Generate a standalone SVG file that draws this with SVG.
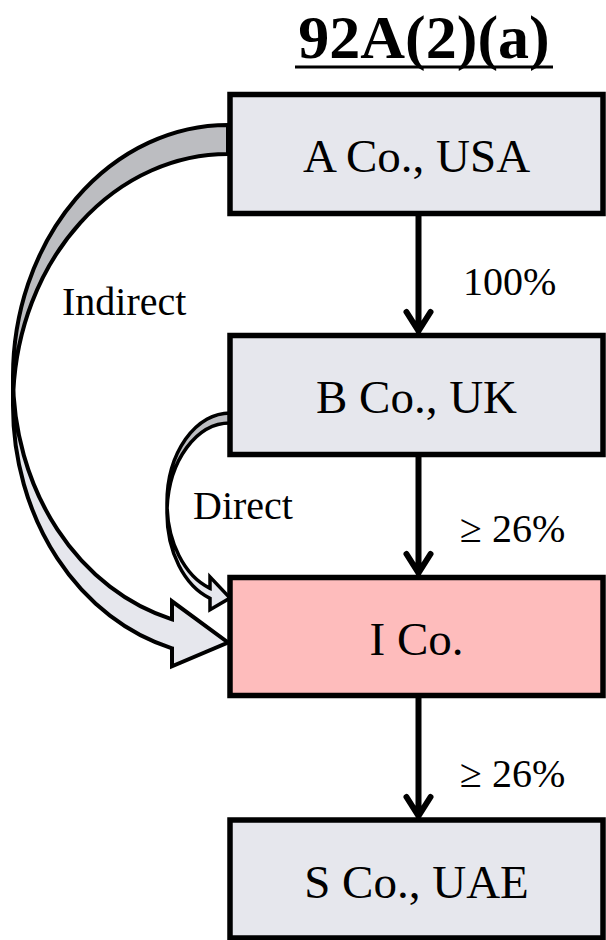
<svg xmlns="http://www.w3.org/2000/svg" width="606" height="940" viewBox="0 0 606 940">
<defs>
<style>
.box{stroke:#000;stroke-width:5.5}
.grey{fill:#e6e7ed}
.pink{fill:#febcbc}
.bt{font-family:"Liberation Serif","Times New Roman",serif;font-size:47px;fill:#000;text-anchor:middle}
.lbl{font-family:"Liberation Serif","Times New Roman",serif;font-size:40px;fill:#000}
.title{font-family:"Liberation Serif","Times New Roman",serif;font-size:62px;font-weight:bold;fill:#000;text-anchor:middle}
.conn{stroke:#000;stroke-width:6;fill:none;stroke-linecap:round;stroke-linejoin:round}
.light{fill:#e6e7ed;stroke:none}
.dark{fill:#bcbdc1;stroke:none}
.edge{fill:none;stroke:#000;stroke-width:4;stroke-linejoin:miter}
</style>
</defs>
<rect width="606" height="940" fill="#fff"/>
<g id="title">
<text class="title" x="424" y="58">92A(2)(a)</text>
<rect x="295" y="65.5" width="258" height="3" fill="#000"/>
</g>
<g id="connectors">
<g id="indirect">
<path class="light" d="M13 376.5 A215 251.5 0 0 0 172 619.3 L172 601.3 L228 642.5 L172 666.3 L172 648.3 A215 251.5 0 0 1 13 405.5 Z"/>
<path class="dark" d="M228 154 A215 251.5 0 0 0 13.36 391 A215 251.5 0 0 1 228 125 Z"/>
<path class="edge" d="M13 376.5 A215 251.5 0 0 0 172 619.3 L172 601.3 L228 642.5 L172 666.3 L172 648.3 A215 251.5 0 0 1 13 405.5 L13 376.5 A215 251.5 0 0 1 228 125 L228 154 A215 251.5 0 0 0 13.36 391"/>
</g>
<g id="direct">
<path class="light" d="M167 503 A63 90 0 0 0 210 588.3 L210 576.8 L230 598 L210 609.8 L210 598.3 A63 90 0 0 1 167 513 Z"/>
<path class="dark" d="M230 423 A63 90 0 0 0 167.1 508 A63 90 0 0 1 230 413 Z"/>
<path class="edge" style="stroke-width:3.5" d="M167 503 A63 90 0 0 0 210 588.3 L210 576.8 L230 598 L210 609.8 L210 598.3 A63 90 0 0 1 167 513 L167 503 A63 90 0 0 1 230 413 L230 423 A63 90 0 0 0 167.1 508"/>
</g>
<path class="conn" d="M418.5 216 V331 M406.5 312 L418.5 331 L430.5 312"/>
<path class="conn" d="M418.5 457 V573 M406.5 554 L418.5 573 L430.5 554"/>
<path class="conn" d="M418.5 698 V816 M406.5 797 L418.5 816 L430.5 797"/>
</g>
<g id="nodeA">
<rect class="box grey" x="230" y="94.5" width="373" height="119"/>
<text class="bt" x="416.5" y="172">A Co., USA</text>
</g>
<g id="nodeB">
<rect class="box grey" x="230" y="335.5" width="373" height="119"/>
<text class="bt" x="416.5" y="413">B Co., UK</text>
</g>
<g id="nodeI">
<rect class="box pink" x="230" y="577.5" width="373" height="118"/>
<text class="bt" x="416.5" y="655">I Co.</text>
</g>
<g id="nodeS">
<rect class="box grey" x="230" y="820" width="373" height="118"/>
<text class="bt" x="416.5" y="897.5">S Co., UAE</text>
</g>
<g id="labels">
<text class="lbl" x="463" y="295">100%</text>
<text class="lbl" x="460" y="542">≥ 26%</text>
<text class="lbl" x="460" y="787">≥ 26%</text>
<text class="lbl" x="62" y="315">Indirect</text>
<text class="lbl" x="193" y="519">Direct</text>
</g>
</svg>
